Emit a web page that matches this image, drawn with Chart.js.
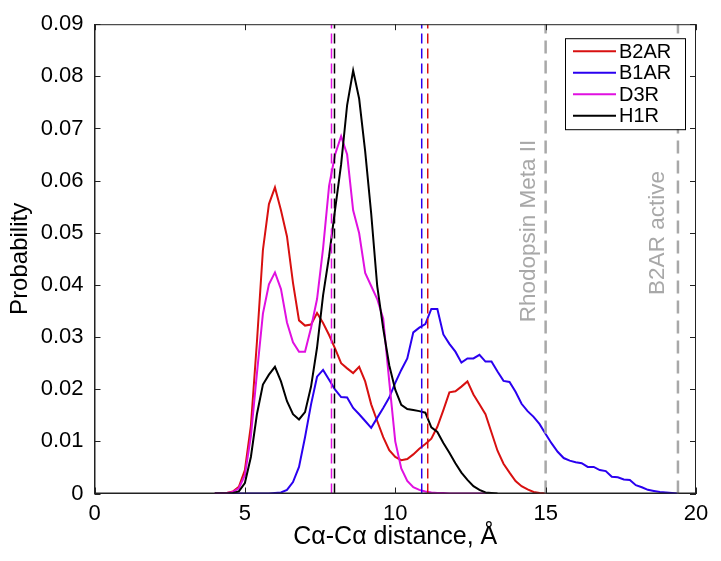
<!DOCTYPE html>
<html>
<head>
<meta charset="utf-8">
<script src="https://cdn.jsdelivr.net/npm/chart.js@4.4.1/dist/chart.umd.min.js"></script>
<style>
  html, body { margin: 0; padding: 0; background: #fff; }
  #wrap { width: 721px; height: 561px; }
</style>
</head>
<body>
<div id="wrap"><canvas id="chart" width="721" height="561"></canvas></div>
<script>
// distance bins (Å)
const xs = [4.0,4.2,4.4,4.6,4.8,5.0,5.2,5.4,5.6,5.8,6.0,6.2,6.4,6.6,6.8,7.0,7.2,7.4,7.6,7.8,
            8.0,8.2,8.4,8.6,8.8,9.0,9.2,9.4,9.6,9.8,10.0,10.2,10.4,10.6,10.8,11.0,11.2,11.4,11.6,11.8,
            12.0,12.2,12.4,12.6,12.8,13.0,13.2,13.4,13.6,13.8,14.0,14.2,14.4,14.6,14.8,15.0,15.2,15.4,15.6,15.8,
            16.0,16.2,16.4,16.6,16.8,17.0,17.2,17.4,17.6,17.8,18.0,18.2,18.4,18.6,18.8,19.0,19.2,19.4];

// probabilities, starting at xs[0]
const b2ar = [0,0,0.0001,0.0004,0.0013,0.0045,0.0130,0.0290,0.0467,0.0555,
              0.0587,0.0543,0.0493,0.0404,0.0332,0.0322,0.0324,0.0346,0.0327,0.0304,
              0.0278,0.0250,0.0240,0.0231,0.0243,0.0215,0.0171,0.0139,0.0108,0.0083,
              0.0070,0.0064,0.0066,0.0075,0.0086,0.0095,0.0105,0.0128,0.0160,0.0194,
              0.0196,0.0205,0.0215,0.0190,0.0171,0.0152,0.0117,0.0082,0.0057,0.0040,
              0.0024,0.0014,0.0008,0.0003,0.0001,0];
const b1ar = [0,0,0,0,0,0,0,0,0,0,
              0.0001,0.0002,0.0007,0.0022,0.0051,0.0108,0.0171,0.0224,0.0237,0.0218,
              0.0199,0.0185,0.0184,0.0164,0.0152,0.0139,0.0126,0.0145,0.0164,0.0184,
              0.0212,0.0237,0.0259,0.0309,0.0318,0.0325,0.0354,0.0354,0.0305,0.0287,
              0.0272,0.0251,0.0259,0.0259,0.0266,0.0253,0.0253,0.0234,0.0216,0.0214,
              0.0195,0.0172,0.0158,0.0147,0.0133,0.0114,0.0096,0.0080,0.0068,0.0063,
              0.0060,0.0058,0.0051,0.0051,0.0045,0.0043,0.0032,0.0031,0.0027,0.0026,
              0.0016,0.0012,0.0007,0.0005,0.0003,0.0002,0.0001,0];
const d3r  = [0,0,0.0001,0.0003,0.0010,0.0035,0.0110,0.0230,0.0345,0.0401,
              0.0424,0.0392,0.0328,0.0290,0.0272,0.0272,0.0318,0.0373,0.0470,0.0590,
              0.0650,0.0685,0.0650,0.0543,0.0499,0.0423,0.0398,0.0373,0.0335,0.0215,
              0.0100,0.0048,0.0024,0.0012,0.0007,0.0004,0.0002,0.0001,0.0001,0,
              0,0,0,0,0,0];
const h1r  = [0,0,0,0.0001,0.0004,0.0020,0.0070,0.0152,0.0209,0.0228,
              0.0243,0.0215,0.0177,0.0152,0.0142,0.0156,0.0205,0.0280,0.0380,0.0455,
              0.0545,0.0631,0.0745,0.0811,0.0757,0.0656,0.0537,0.0398,0.0316,0.0246,
              0.0199,0.0170,0.0162,0.0160,0.0158,0.0155,0.0127,0.0118,0.0097,0.0078,
              0.0058,0.0040,0.0026,0.0014,0.0007,0.0002,0.0001,0];

// mean distances (dashed) and reference structures
const meanLines = [
  { label: 'D3R',  x: 7.88,  color: '#e010e0' },
  { label: 'H1R',  x: 7.98,  color: '#000000' },
  { label: 'B1AR', x: 10.88, color: '#2a00f0' },
  { label: 'B2AR', x: 11.08, color: '#d81010' }
];
const refLines = [
  { label: 'Rhodopsin Meta II', x: 15.0 },
  { label: 'B2AR active', x: 19.4 }
];

const yMin = 0, yMax = 0.09;

function toPoints(ys) {
  return ys.map((y, i) => ({ x: xs[i], y: y }));
}
function vline(x) {
  return [{ x: x, y: yMin }, { x: x, y: yMax }];
}

const series = [
  { label: 'B2AR', data: b2ar, color: '#d81010', order: 4 },
  { label: 'B1AR', data: b1ar, color: '#2a00f0', order: 3 },
  { label: 'D3R',  data: d3r,  color: '#e010e0', order: 2 },
  { label: 'H1R',  data: h1r,  color: '#000000', order: 1 }
];

const datasets = series.map(s => ({
  label: s.label,
  data: toPoints(s.data),
  borderColor: s.color,
  borderWidth: 2,
  pointRadius: 0,
  tension: 0,
  order: s.order
}));
meanLines.forEach(m => datasets.push({
  label: m.label + ' mean',
  data: vline(m.x),
  borderColor: m.color,
  borderWidth: 1.5,
  borderDash: [10, 5],
  pointRadius: 0,
  order: 0
}));
refLines.forEach(r => datasets.push({
  label: r.label,
  data: vline(r.x),
  borderColor: '#a8a8a8',
  borderWidth: 2.5,
  borderDash: [13, 7],
  pointRadius: 0,
  order: 0
}));

const FONT = "'Liberation Sans', Arial, Helvetica, sans-serif";

// box, inner ticks, legend and rotated labels (MATLAB look)
const decor = {
  id: 'decor',
  afterDraw(chart) {
    const { ctx, chartArea: a, scales: { x, y } } = chart;
    ctx.save();
    ctx.strokeStyle = '#222';
    ctx.lineWidth = 1;
    ctx.strokeRect(a.left + 0.5, a.top + 0.5, a.right - a.left - 1, a.bottom - a.top - 1);
    const tl = 6;
    ctx.beginPath();
    x.ticks.forEach(t => {
      const px = Math.round(x.getPixelForValue(t.value)) + 0.5;
      ctx.moveTo(px, a.bottom); ctx.lineTo(px, a.bottom - tl);
      ctx.moveTo(px, a.top); ctx.lineTo(px, a.top + tl);
    });
    y.ticks.forEach(t => {
      const py = Math.round(y.getPixelForValue(t.value)) + 0.5;
      ctx.moveTo(a.left, py); ctx.lineTo(a.left + tl, py);
      ctx.moveTo(a.right, py); ctx.lineTo(a.right - tl, py);
    });
    ctx.stroke();

    // rotated reference labels
    ctx.fillStyle = '#a8a8a8';
    ctx.font = '22.5px ' + FONT;
    ctx.textAlign = 'center';
    ctx.textBaseline = 'middle';
    const labelPos = [{ dx: -17, cy: 231 }, { dx: -20, cy: 233 }];
    refLines.forEach((r, i) => {
      ctx.save();
      ctx.translate(x.getPixelForValue(r.x) + labelPos[i].dx, labelPos[i].cy);
      ctx.rotate(-Math.PI / 2);
      ctx.fillText(r.label, 0, 0);
      ctx.restore();
    });

    // legend
    const bx = a.right - 131, by = a.top + 14, bw = 120, bh = 91;
    ctx.fillStyle = '#fff';
    ctx.fillRect(bx, by, bw, bh);
    ctx.strokeStyle = '#000';
    ctx.lineWidth = 1;
    ctx.strokeRect(bx + 0.5, by + 0.5, bw, bh);
    ctx.font = '20px ' + FONT;
    ctx.textAlign = 'left';
    ctx.fillStyle = '#000';
    series.forEach((s, i) => {
      const ry = by + 13 + i * 21.5;
      ctx.strokeStyle = s.color;
      ctx.lineWidth = 2;
      ctx.beginPath();
      ctx.moveTo(bx + 8, ry); ctx.lineTo(bx + 51, ry);
      ctx.stroke();
      ctx.fillText(s.label, bx + 54, ry + 1);
    });
    ctx.restore();
  }
};

new Chart(document.getElementById('chart'), {
  type: 'line',
  data: { datasets: datasets },
  options: {
    responsive: false,
    animation: false,
    layout: { padding: { left: 0, right: 25, top: 18, bottom: 0 } },
    plugins: { legend: { display: false }, tooltip: { enabled: false } },
    scales: {
      x: {
        type: 'linear', min: 0, max: 20,
        ticks: { stepSize: 5, color: '#000', padding: 7, font: { size: 22, family: FONT } },
        grid: { drawOnChartArea: false, drawTicks: false },
        border: { color: '#222', width: 1 },
        title: { display: true, text: 'Cα-Cα distance, Å', color: '#000',
                 font: { size: 25, family: FONT }, padding: { top: 0, bottom: 9 } },
        afterFit: s => { s.height = 67.5; }
      },
      y: {
        type: 'linear', min: yMin, max: yMax,
        ticks: { stepSize: 0.01, color: '#000', padding: 11, font: { size: 22, family: FONT },
                 callback: v => (Math.abs(v) < 1e-9 ? '0' : v.toFixed(2)) },
        grid: { drawOnChartArea: false, drawTicks: false },
        border: { color: '#222', width: 1 },
        title: { display: true, text: 'Probability', color: '#000',
                 font: { size: 24, family: FONT }, padding: { top: 6, bottom: 0 } },
        afterFit: s => { s.width = 94.5; }
      }
    }
  },
  plugins: [decor]
});
</script>
</body>
</html>
